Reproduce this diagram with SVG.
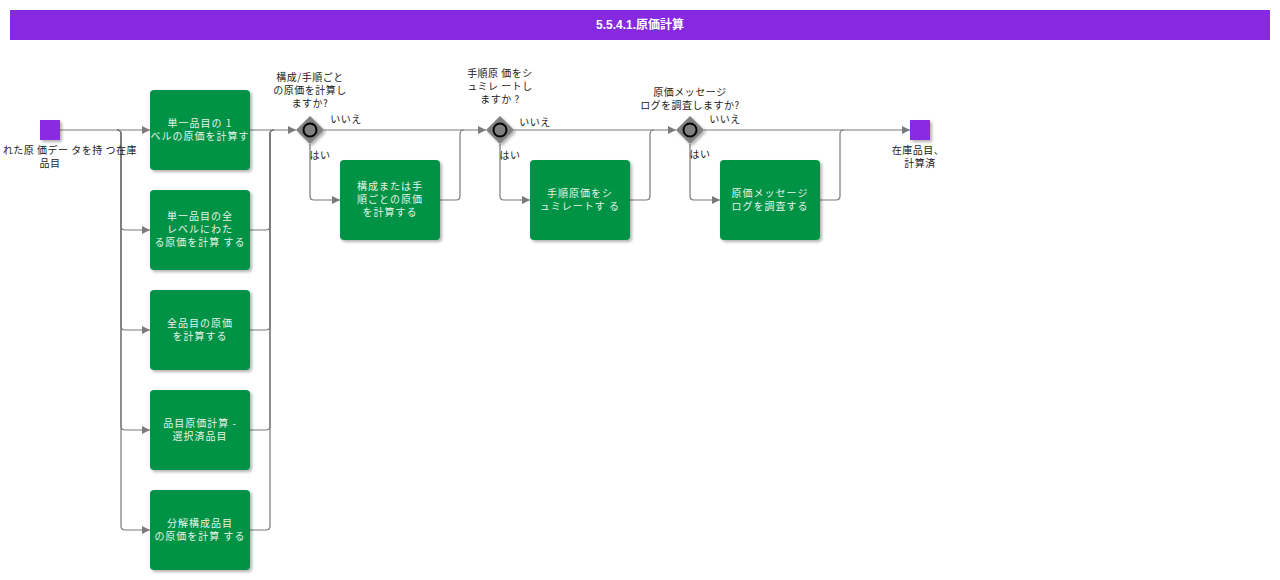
<svg xmlns="http://www.w3.org/2000/svg" width="1280" height="580" viewBox="0 0 1280 580">
<defs>
<marker id="arr" viewBox="0 0 10 10" refX="10" refY="5" markerWidth="10" markerHeight="8" markerUnits="userSpaceOnUse" orient="auto"><path d="M0,0 L10,5 L0,10 Z" fill="#7a7a7a"/></marker>
<filter id="sh" x="-20%" y="-20%" width="140%" height="140%"><feDropShadow dx="2" dy="2" stdDeviation="1.5" flood-color="#000" flood-opacity="0.3"/></filter>
</defs>
<style>
.conn{fill:none;stroke:#7a7a7a;stroke-width:1.2}
.task rect{fill:#009245;filter:url(#sh)}
.task text{fill:#e6f4ea;font-family:"Noto Sans CJK JP","Noto Sans",sans-serif;font-size:10px;text-anchor:middle;letter-spacing:1px}
.lbl{fill:#222;font-family:"Noto Sans CJK JP","Noto Sans",sans-serif;font-size:10px;text-anchor:middle;letter-spacing:0.5px}
.ev rect{fill:#8a2be2;filter:url(#sh)}
.gw path{fill:#808080;filter:url(#sh)}
.gw circle{fill:#808080;stroke:#000;stroke-width:2}
</style>
<rect width="1280" height="580" fill="#fff"/>
<g id="header">
<rect x="10" y="10" width="1260" height="30" fill="#8629e0"/>
<text x="640" y="29" fill="#fff" font-family="Liberation Sans, Noto Sans CJK JP, sans-serif" font-size="12" font-weight="bold" text-anchor="middle">5.5.4.1.原価計算</text>
</g>
<g id="connectors">
<path class="conn" d="M60,130 H150" marker-end="url(#arr)"/>
<path class="conn" d="M117,130 Q121,130 121,134 V226 Q121,230 125,230 H150" marker-end="url(#arr)"/>
<path class="conn" d="M117,130 Q121,130 121,134 V326 Q121,330 125,330 H150" marker-end="url(#arr)"/>
<path class="conn" d="M117,130 Q121,130 121,134 V426 Q121,430 125,430 H150" marker-end="url(#arr)"/>
<path class="conn" d="M117,130 Q121,130 121,134 V526 Q121,530 125,530 H150" marker-end="url(#arr)"/>
<path class="conn" d="M250,130 H296" marker-end="url(#arr)"/>
<path class="conn" d="M250,230 H266 Q270,230 270,226 V134 Q270,130 274,130"/>
<path class="conn" d="M250,330 H266 Q270,330 270,326 V134 Q270,130 274,130"/>
<path class="conn" d="M250,430 H266 Q270,430 270,426 V134 Q270,130 274,130"/>
<path class="conn" d="M250,530 H266 Q270,530 270,526 V134 Q270,130 274,130"/>
<path class="conn" d="M324,130 H486" marker-end="url(#arr)"/>
<path class="conn" d="M310,144 V196 Q310,200 314,200 H340" marker-end="url(#arr)"/>
<path class="conn" d="M440,200 H456 Q460,200 460,196 V134 Q460,130 464,130"/>
<path class="conn" d="M514,130 H676" marker-end="url(#arr)"/>
<path class="conn" d="M500,144 V196 Q500,200 504,200 H530" marker-end="url(#arr)"/>
<path class="conn" d="M630,200 H646 Q650,200 650,196 V134 Q650,130 654,130"/>
<path class="conn" d="M704,130 H910" marker-end="url(#arr)"/>
<path class="conn" d="M690,144 V196 Q690,200 694,200 H720" marker-end="url(#arr)"/>
<path class="conn" d="M820,200 H836 Q840,200 840,196 V134 Q840,130 844,130"/>
<text class="lbl" x="346" y="123">いいえ</text>
<text class="lbl" x="320" y="159">はい</text>
<text class="lbl" x="535" y="126">いいえ</text>
<text class="lbl" x="510" y="159">はい</text>
<text class="lbl" x="725" y="123">いいえ</text>
<text class="lbl" x="700" y="158">はい</text>
</g>
<g id="start" class="ev">
<rect x="40" y="120" width="20" height="20"/>
<text class="lbl" x="70" y="154">れた原 価デー タを持 つ在庫</text>
<text class="lbl" x="50" y="167">品目</text>
</g>
<g id="task1" class="task"><rect x="150" y="90" width="100" height="80" rx="4"/>
<text x="200" y="127">単一品目の 1</text><text x="200" y="140">ベルの原価を計算す</text></g>
<g id="task2" class="task"><rect x="150" y="190" width="100" height="80" rx="4"/>
<text x="200" y="220">単一品目の全</text><text x="200" y="233">レベルにわた</text><text x="200" y="246">る原価を計算 する</text></g>
<g id="task3" class="task"><rect x="150" y="290" width="100" height="80" rx="4"/>
<text x="200" y="327">全品目の原価</text><text x="200" y="340">を計算する</text></g>
<g id="task4" class="task"><rect x="150" y="390" width="100" height="80" rx="4"/>
<text x="200" y="427">品目原価計算 -</text><text x="200" y="440">選択済品目</text></g>
<g id="task5" class="task"><rect x="150" y="490" width="100" height="80" rx="4"/>
<text x="200" y="527">分解構成品目</text><text x="200" y="540">の原価を計算 する</text></g>
<g id="gw1" class="gw"><path d="M310,116 L324,130 L310,144 L296,130 Z"/><circle cx="310" cy="130" r="6.5"/>
<text class="lbl" x="310" y="81">構成/手順ごと</text><text class="lbl" x="310" y="94">の原価を計算し</text><text class="lbl" x="310" y="107">ますか?</text></g>
<g id="taskg1" class="task"><rect x="340" y="160" width="100" height="80" rx="4"/>
<text x="390" y="190">構成または手</text><text x="390" y="203">順ごとの原価</text><text x="390" y="216">を計算する</text></g>
<g id="gw2" class="gw"><path d="M500,116 L514,130 L500,144 L486,130 Z"/><circle cx="500" cy="130" r="6.5"/>
<text class="lbl" x="500" y="77">手順原 価をシ</text><text class="lbl" x="500" y="90">ュミレ ートし</text><text class="lbl" x="500" y="103">ますか ?</text></g>
<g id="taskg2" class="task"><rect x="530" y="160" width="100" height="80" rx="4"/>
<text x="580" y="197">手順原価をシ</text><text x="580" y="210">ュミレートす る</text></g>
<g id="gw3" class="gw"><path d="M690,116 L704,130 L690,144 L676,130 Z"/><circle cx="690" cy="130" r="6.5"/>
<text class="lbl" x="690" y="96">原価メッセージ</text><text class="lbl" x="690" y="109">ログを調査しますか?</text></g>
<g id="taskg3" class="task"><rect x="720" y="160" width="100" height="80" rx="4"/>
<text x="770" y="197">原価メッセージ</text><text x="770" y="210">ログを調査する</text></g>
<g id="end" class="ev">
<rect x="910" y="120" width="20" height="20"/>
<text class="lbl" x="918" y="154">在庫品目、</text><text class="lbl" x="920" y="167">計算済</text>
</g>
</svg>
